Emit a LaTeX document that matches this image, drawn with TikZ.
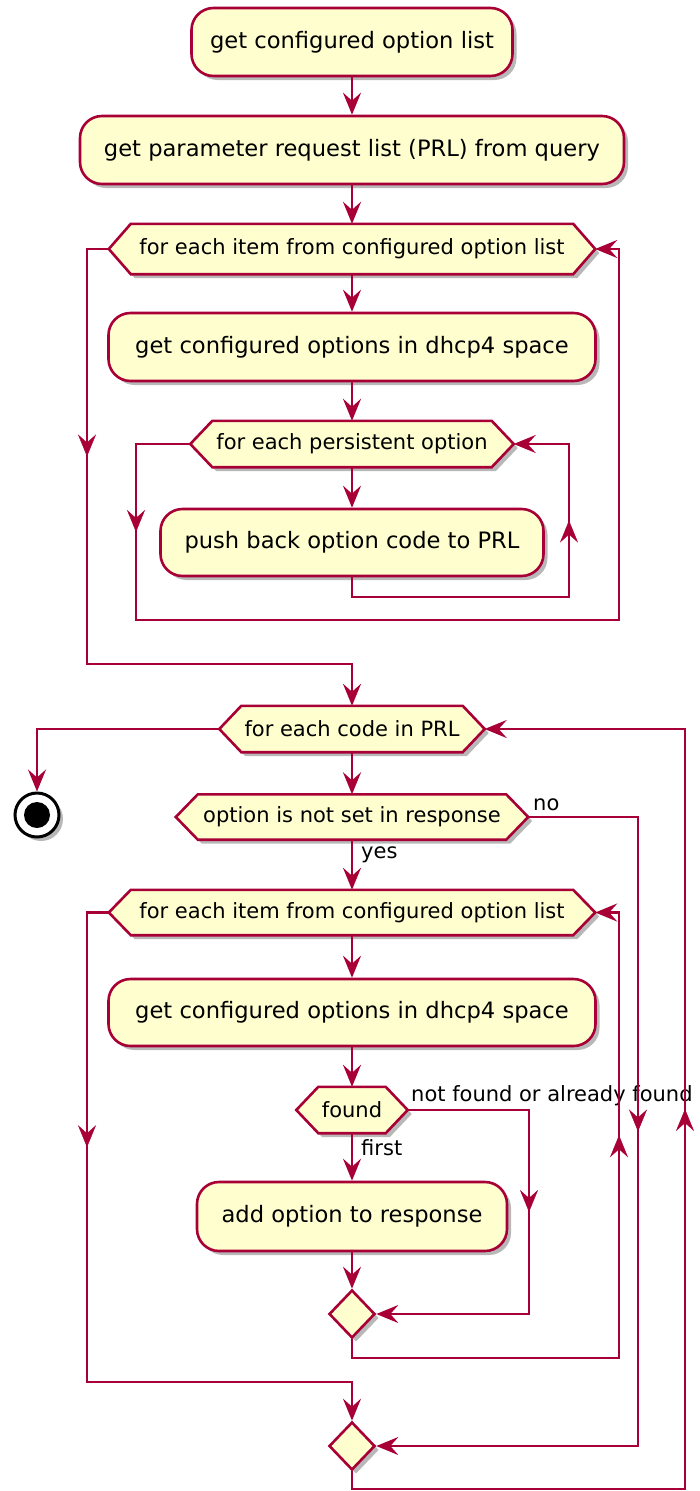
\documentclass[tikz,border=0pt]{standalone}
\usepackage{fontspec}
\setmainfont{DejaVu Sans}
\usetikzlibrary{arrows.meta,shapes.geometric,shadows,backgrounds,decorations.markings}
\definecolor{lineC}{HTML}{A80036}
\definecolor{boxC}{HTML}{FEFECE}
\newcommand\bfnt{\fontsize{22.6}{27}\selectfont}
\newcommand\hfnt{\fontsize{21}{25}\selectfont}
% name, x, y, total width, height, text
\newcommand\hexnode[6]{%
  \node[hexbox, minimum width=#4-44, minimum height=#5] (#1) at (#2,#3) {#6};
  \coordinate (#1-w) at ([xshift=-22pt]#1.west);
  \coordinate (#1-e) at ([xshift=22pt]#1.east);
  \begin{scope}[on background layer]
    \draw[hexline] (#1.north west) -- (#1.north east) -- (#1-e) -- (#1.south east)
      -- (#1.south west) -- (#1-w) -- cycle;
  \end{scope}%
}
\begin{document}
\begin{tikzpicture}[x=1pt,y=-1pt,
  >={Stealth[length=22pt,width=18pt,inset=8pt]},
  shadowed/.style={drop shadow={shadow xshift=4pt,shadow yshift=-4pt,opacity=0.35,fill=black!80}},
  actbox/.style={draw=lineC,fill=boxC,line width=2.6pt,rounded corners=22pt,
    inner sep=0pt,font=\bfnt,text=black,shadowed},
  hexbox/.style={draw=none,inner sep=0pt,font=\hfnt,text=black},
  hexline/.style={draw=lineC,fill=boxC,line width=2.6pt,line join=miter,shadowed},
  merge/.style={diamond,draw=lineC,fill=boxC,line width=2.6pt,inner sep=0pt,
    minimum width=46,minimum height=48,shadowed},
  flow/.style={draw=lineC,line width=2.6pt,->},
  mid/.style={color=lineC,postaction={decorate},
    decoration={markings,mark=at position 0.5 with {\arrow{>}}}},
  lbl/.style={font=\hfnt,text=black,inner sep=0pt}
]
\useasboundingbox (0,0) rectangle (700,1491);

% ---- nodes ----
\node[actbox,minimum width=321,minimum height=68] (b1) at (352,42) {get configured option list};
\node[actbox,minimum width=544,minimum height=68] (b2) at (352,150) {get parameter request list (PRL) from query};
\hexnode{h1}{352}{249}{486}{50}{for each item from configured option list}
\node[actbox,minimum width=487,minimum height=68] (b3) at (352,347) {get configured options in dhcp4 space};
\hexnode{h2}{352}{444}{323}{46}{for each persistent option}
\node[actbox,minimum width=383,minimum height=67] (b4) at (352,542.5) {push back option code to PRL};

\hexnode{h3}{352}{729}{265}{46}{for each code in PRL}
\node[circle,draw=black,fill=white,line width=3pt,minimum size=44,inner sep=0pt,shadowed,
  path picture={\fill[black] (path picture bounding box.center) circle (13pt);}] (stop) at (37,815) {};
\hexnode{h4}{352}{817}{352}{45}{option is not set in response}
\hexnode{h5}{352}{912.5}{486}{45}{for each item from configured option list}
\node[actbox,minimum width=487,minimum height=67] (b5) at (352,1012.5) {get configured options in dhcp4 space};
\hexnode{h6}{352}{1110}{111}{46}{found}
\node[actbox,minimum width=310,minimum height=69] (b6) at (352,1216.5) {add option to response};
\node[merge] (d1) at (352,1314) {};
\node[merge] (d2) at (352,1446) {};

% ---- labels ----
\node[lbl,anchor=south west] (lno) at (533,811) {no};
\node[lbl,anchor=west] (lyes) at (361,855) {yes};
\node[lbl,anchor=south west] (lnf) at (411,1106) {not found or already found};
\node[lbl,anchor=west] (lfirst) at (361,1148) {first};

% ---- coordinates ----
\coordinate (l1a) at (569,597);  \coordinate (l1b) at (569,444);
\coordinate (l2a) at (136,444);  \coordinate (l2b) at (136,620);
\coordinate (l2c) at (619,620);  \coordinate (l2d) at (619,249);
\coordinate (l3a) at (87,249);   \coordinate (l3b) at (87,664);  \coordinate (l3c) at (352,664);
\coordinate (l4a) at (37,729);
\coordinate (l5a) at (638,817);  \coordinate (l5b) at (638,1446);
\coordinate (l6a) at (529,1110); \coordinate (l6b) at (529,1314);
\coordinate (l7a) at (352,1358); \coordinate (l7b) at (619,1358); \coordinate (l7c) at (619,912.5);
\coordinate (l8a) at (87,912.5); \coordinate (l8b) at (87,1382); \coordinate (l8c) at (352,1382);
\coordinate (l9a) at (352,1489); \coordinate (l9b) at (685,1489); \coordinate (l9c) at (685,729);

% ---- connectors ----
\draw[flow] (b1) -- (b2);
\draw[flow] (b2) -- (h1);
\draw[flow] (h1) -- (b3);
\draw[flow] (b3) -- (h2);
\draw[flow] (h2) -- (b4);
\draw[flow] (b4.south) -- (b4.south |- l1a) -- (l1a) -- (l1b) -- (h2-e);
\path[mid] (l1a) -- (l1b);
\draw[flow] (h2-w) -- (l2a) -- (l2b) -- (l2c) -- (l2d) -- (h1-e);
\path[mid] (l2a) -- (l2b);
\draw[flow] (h1-w) -- (l3a) -- (l3b) -- (l3c) -- (h3);
\path[mid] (l3a) -- (l3b);

\draw[flow] (h3-w) -- (l4a) -- (stop);
\draw[flow] (h3) -- (h4);
\draw[flow] (h4-e) -- (l5a) -- (l5b) -- (d2);
\path[mid] (l5a) -- (l5b);
\draw[flow] (h4) -- (h5);
\draw[flow] (h5) -- (b5);
\draw[flow] (b5) -- (h6);
\draw[flow] (h6) -- (b6);
\draw[flow] (b6) -- (d1);
\draw[flow] (h6-e) -- (l6a) -- (l6b) -- (d1);
\path[mid] (l6a) -- (l6b);
\draw[flow] (d1.south) -- (l7a) -- (l7b) -- (l7c) -- (h5-e);
\path[mid] (l7b) -- (l7c);
\draw[flow] (h5-w) -- (l8a) -- (l8b) -- (l8c) -- (d2);
\path[mid] (l8a) -- (l8b);
\draw[flow] (d2.south) -- (l9a) -- (l9b) -- (l9c) -- (h3-e);
\path[mid] (l9b) -- (l9c);
\end{tikzpicture}
\end{document}
